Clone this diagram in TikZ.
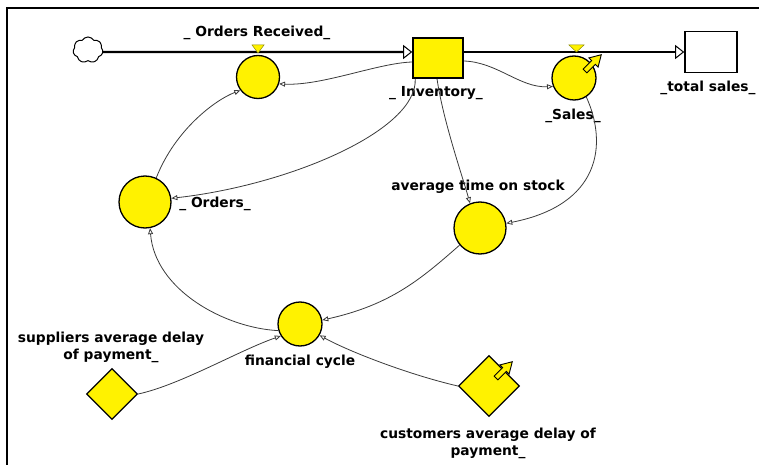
\documentclass[tikz,border=0pt]{standalone}
\usepackage{fontspec}
\setmainfont{DejaVu Sans}
\usetikzlibrary{arrows.meta,shapes.geometric,shapes.symbols,calc}
\definecolor{linkgray}{HTML}{3A3A3A}
\definecolor{valveedge}{HTML}{8A8A00}

\begin{document}
\begin{tikzpicture}[x=1pt,y=-1pt,
  stockbox/.style={draw, line width=1.6pt, minimum width=50pt, minimum height=40pt, inner sep=0pt},
  auxvar/.style={circle, draw, line width=1.3pt, fill=yellow, inner sep=0pt},
  constvar/.style={diamond, draw, line width=1.3pt, fill=yellow, inner sep=0pt},
  lbl/.style={font=\fontsize{13.8}{17}\selectfont\bfseries, text=black, align=center, inner sep=0pt},
  link/.style={draw=linkgray, line width=0.8pt, -{Triangle[open, length=6pt, width=5pt]}},
  pipe/.style={line width=2.4pt, -{Triangle[open, length=9pt, width=14pt, line width=1pt]}},
  valve/.style={fill=yellow, draw=valveedge, line width=0.5pt},
  infl/.pic={\draw[fill=yellow, line width=0.9pt]
     (0,-2.6) -- (12,-2.6) -- (12,-6.5) -- (23,0) -- (12,6.5) -- (12,2.6) -- (0,2.6) -- cycle;},
]
\useasboundingbox (0,0) rectangle (759,465);

% frame
\draw[line width=2.2pt] (7,466) -- (7,8) -- (760,8);

% stocks, source and flow rates
\node[cloud, draw, line width=1pt, cloud puffs=7, cloud puff arc=120, aspect=1.2,
      minimum width=30pt, minimum height=26pt, inner sep=0pt] (src) at (88,50) {};
\node[stockbox, fill=yellow] (inv) at (438,58) {};
\node[stockbox, fill=white, minimum width=52pt, minimum height=41pt] (tot) at (711,52) {};

\draw[pipe] ($(src.east)+(0,2)$) -- ($(inv.west)+(0,-6)$);
\draw[pipe] ($(inv.east)+(0,-6)$) -- (tot.west);

\node[auxvar, minimum size=43pt] (orec) at (258,77) {};
\node[auxvar, minimum size=44pt] (sales) at (574,78) {};
\filldraw[valve] (252,45) -- (264,45) -- (258,53) -- cycle;
\filldraw[valve] (569,45) -- (584,45) -- (576.5,52) -- cycle;
\path (585,71) pic[rotate=45] {infl};

% auxiliaries and constants
\node[auxvar, minimum size=52pt] (ord) at (145,202) {};
\node[auxvar, minimum size=52pt] (avg) at (480,228) {};
\node[auxvar, minimum size=44pt] (fin) at (300,324) {};
\node[constvar, minimum width=51pt, minimum height=51pt] (sup) at (112,394) {};
\node[constvar, minimum width=61pt, minimum height=61pt] (cust) at (489,386) {};
\path (496,378) pic[rotate=45] {infl};

% labels
\node[lbl] (lorec) at (257,33) {\_ Orders Received\_};
\node[lbl] (linv) at (436,93) {\_ Inventory\_};
\node[lbl] (lsales) at (573,116) {\_Sales\_};
\node[lbl] (ltot) at (708,88) {\_total sales\_};
\node[lbl] (lord) at (215,204) {\_ Orders\_};
\node[lbl] (lavg) at (478,187) {average time on stock};
\node[lbl] (lfin) at (300,362) {financial cycle};
\node[lbl] (lsup) at (111,347) {suppliers average delay\\of payment\_};
\node[lbl] (lcust) at (488,443) {customers average delay of\\payment\_};

% information links
\draw[link] ($(inv.west)+(0,4)$) .. controls (378,63) and (322,86) .. (orec.-18);
\draw[link] ($(inv.east)+(0,3)$) .. controls (497,62) and (520,88) .. (sales.202);
\draw[link] ($(inv.south west)+(3,0)$) .. controls (418,130) and (290,185) .. (ord.8);
\draw[link] ($(inv.south)+(-1,0)$) .. controls (443,120) and (462,175) .. (avg.112);
\draw[link] (sales.-57) .. controls (608,145) and (600,205) .. (avg.10);
\draw[link] (ord.65) .. controls (175,130) and (215,100) .. (orec.217);
\draw[link] (fin.197) .. controls (225,328) and (155,290) .. (ord.281);
\draw[link] (avg.220) .. controls (420,280) and (390,305) .. (fin.10);
\draw[link] (sup.east) .. controls (180,385) and (240,350) .. (fin.212);
\draw[link] (cust.west) .. controls (410,375) and (350,352) .. (fin.-30);
\end{tikzpicture}
\end{document}
